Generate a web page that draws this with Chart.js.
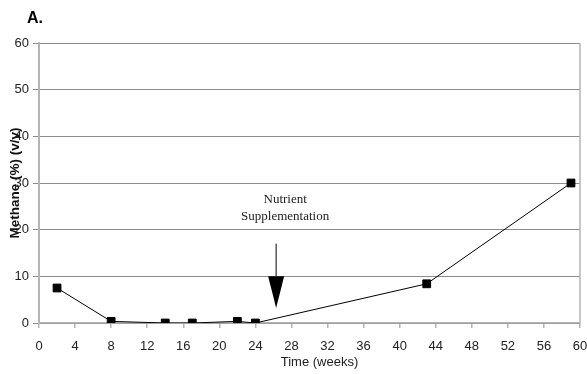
<!DOCTYPE html>
<html>
<head>
<meta charset="utf-8">
<script src="https://cdn.jsdelivr.net/npm/chart.js@4"></script>
<style>
  html, body { margin: 0; padding: 0; background: #fff; }
  #wrap { width: 587px; height: 374px; position: relative; }
</style>
</head>
<body>
<div id="wrap"><canvas id="methaneChart" width="587" height="374"></canvas></div>
<script>
// Data
const weeks = [2, 8, 14, 17, 22, 24, 43, 59];
const methane = [7.5, 0.35, 0, 0, 0.35, 0, 8.4, 30];
const xTicks = [0, 4, 8, 12, 16, 20, 24, 28, 32, 36, 40, 44, 48, 52, 56, 60];
const yTicks = [0, 10, 20, 30, 40, 50, 60];

// Annotation (in data units)
const noteLines = ['Nutrient', 'Supplementation'];
const noteWeek = 27.3;
const noteLevels = [25.75, 22.1];
const arrowWeek = 26.3;
const arrowFrom = 17;
const arrowHead = 10;
const arrowTip = 3.2;

const gridGray = '#8c8c8c';
const axisGray = '#b4b4b4';
const sans = '"Liberation Sans", Arial, sans-serif';

// Extra drawing: panel label, right border, x title, arrow and note
const extras = {
  id: 'extras',
  afterDraw(chart) {
    const { ctx, chartArea, scales: { x, y } } = chart;
    ctx.save();

    // right border of the plot
    ctx.strokeStyle = axisGray;
    ctx.lineWidth = 1.5;
    ctx.beginPath();
    ctx.moveTo(chartArea.right, chartArea.top);
    ctx.lineTo(chartArea.right, chartArea.bottom);
    ctx.stroke();

    // panel label
    ctx.fillStyle = '#000';
    ctx.font = 'bold 16px ' + sans;
    ctx.textAlign = 'left';
    ctx.textBaseline = 'alphabetic';
    ctx.fillText('A.', 27, 23);

    // x axis title (sits a little right of centre in the original)
    ctx.fillStyle = '#222';
    ctx.font = '13px ' + sans;
    ctx.textAlign = 'center';
    ctx.textBaseline = 'middle';
    ctx.fillText('Time (weeks)', (chartArea.left + chartArea.right) / 2 + 10, 362);

    // note text
    ctx.font = '13px "Liberation Serif", "Times New Roman", serif';
    ctx.textBaseline = 'alphabetic';
    noteLines.forEach((t, i) => {
      ctx.fillText(t, x.getPixelForValue(noteWeek), y.getPixelForValue(noteLevels[i]));
    });

    // arrow
    const ax = x.getPixelForValue(arrowWeek);
    ctx.strokeStyle = '#000';
    ctx.lineWidth = 1;
    ctx.beginPath();
    ctx.moveTo(ax, y.getPixelForValue(arrowFrom));
    ctx.lineTo(ax, y.getPixelForValue(arrowHead));
    ctx.stroke();
    ctx.fillStyle = '#000';
    ctx.beginPath();
    ctx.moveTo(ax - 8, y.getPixelForValue(arrowHead));
    ctx.lineTo(ax + 8, y.getPixelForValue(arrowHead));
    ctx.lineTo(ax, y.getPixelForValue(arrowTip));
    ctx.closePath();
    ctx.fill();

    ctx.restore();
  }
};

new Chart(document.getElementById('methaneChart'), {
  type: 'line',
  data: {
    datasets: [{
      data: weeks.map((w, i) => ({ x: w, y: methane[i] })),
      borderColor: '#000',
      borderWidth: 1,
      backgroundColor: '#000',
      pointStyle: 'rect',
      pointRadius: 5.5,
      pointHoverRadius: 5.5,
      tension: 0,
      fill: false
    }]
  },
  options: {
    responsive: false,
    animation: false,
    layout: { padding: { left: 0, right: 7, top: 43, bottom: 0 } },
    plugins: {
      legend: { display: false },
      tooltip: { enabled: false }
    },
    scales: {
      x: {
        type: 'linear',
        min: 0,
        max: 60,
        afterBuildTicks: scale => { scale.ticks = xTicks.map(v => ({ value: v })); },
        afterFit: scale => {
          scale.height = 51;
          scale.paddingLeft = 0;
          scale.paddingRight = 0;
        },
        ticks: {
          color: '#222',
          font: { family: sans, size: 13 },
          padding: 11,
          maxRotation: 0,
          autoSkip: false
        },
        grid: { drawOnChartArea: false, drawTicks: true, tickLength: 5, color: axisGray, lineWidth: 1.5 },
        border: { color: axisGray, width: 1.5 }
      },
      y: {
        min: 0,
        max: 60,
        afterBuildTicks: scale => { scale.ticks = yTicks.map(v => ({ value: v })); },
        afterFit: scale => {
          scale.width = 39;
          scale.paddingTop = 0;
          scale.paddingBottom = 0;
        },
        ticks: {
          color: '#222',
          font: { family: sans, size: 13 },
          padding: 4
        },
        grid: { color: gridGray, lineWidth: 1, tickLength: 6 },
        border: { color: axisGray, width: 2 },
        title: {
          display: true,
          text: 'Methane (%) (v/v)',
          color: '#111',
          font: { family: sans, size: 13.5, weight: 'bold' },
          padding: { top: 7, bottom: 7 }
        }
      }
    }
  },
  plugins: [extras]
});
</script>
</body>
</html>
